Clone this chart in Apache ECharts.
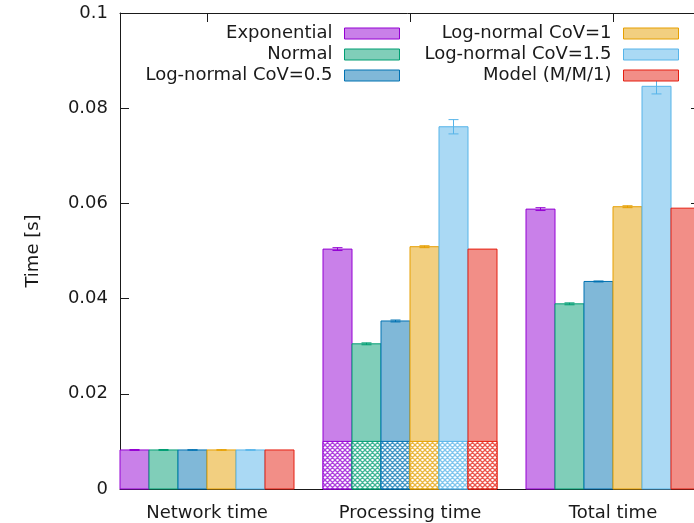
<!DOCTYPE html>
<html>
<head>
<meta charset="utf-8">
<script src="https://cdn.jsdelivr.net/npm/echarts@6/dist/echarts.min.js"></script>
<style>
html, body { margin: 0; padding: 0; background: #fff; }
#main { width: 694px; height: 523px; }
</style>
</head>
<body>
<div id="main"></div>
<script>
var categories = ['Network time', 'Processing time', 'Total time'];
var seriesNames = ['Exponential', 'Normal', 'Log-normal CoV=0.5',
                   'Log-normal CoV=1', 'Log-normal CoV=1.5', 'Model (M/M/1)'];
var lineColors = ['#9400d3', '#009e73', '#0072b2', '#e69f00', '#56b4e9', '#e51e10'];
var fillColors = ['#c980e9', '#80ceb9', '#80b8d8', '#f2cf80', '#aad9f4', '#f28e87'];

// mean times [network, processing, total]
var exponential = [0.0082, 0.0504, 0.0588];
var normal      = [0.0082, 0.0305, 0.0389];
var logn05      = [0.0082, 0.0353, 0.0436];
var logn1       = [0.0082, 0.0509, 0.0593];
var logn15      = [0.0082, 0.0761, 0.0846];
var model       = [0.0082, 0.0504, 0.0590];

// error bar half widths
var exponentialErr = [0.0001, 0.0003, 0.0003];
var normalErr      = [0.0001, 0.0002, 0.0002];
var logn05Err      = [0.00005, 0.0002, 0.0001];
var logn1Err       = [0.00005, 0.0002, 0.0002];
var logn15Err      = [0.00005, 0.0015, 0.0016];
var modelErr       = [0, 0, 0];

// hatched bottom part of the bars (processing only)
var hatched = [0, 0.01, 0];

var values = [exponential, normal, logn05, logn1, logn15, model];
var errors = [exponentialErr, normalErr, logn05Err, logn1Err, logn15Err, modelErr];

function makePattern(color) {
    var n = 5;
    var c = document.createElement('canvas');
    c.width = n; c.height = n;
    var ctx = c.getContext('2d');
    ctx.fillStyle = '#fff';
    ctx.fillRect(0, 0, n, n);
    ctx.strokeStyle = color;
    ctx.globalAlpha = 0.75;
    ctx.lineWidth = 1.3;
    ctx.beginPath();
    for (var o = -n; o <= n; o += n) {
        ctx.moveTo(o - 1, -1); ctx.lineTo(o + n + 1, n + 1);
        ctx.moveTo(o + n + 1, -1); ctx.lineTo(o - 1, n + 1);
    }
    ctx.stroke();
    return c;
}
var patterns = lineColors.map(makePattern);

function makeRender(k) {
    return function (params, api) {
        var c = api.value(0), v = api.value(1), e = api.value(2), h = api.value(3);
        var x0 = c - 3 / 7 + k / 7, x1 = x0 + 1 / 7;
        var p0 = api.coord([x0, 0]), p1 = api.coord([x1, v]);
        var w = p1[0] - p0[0];
        var children = [{
            type: 'rect',
            shape: { x: p0[0], y: p1[1], width: w, height: p0[1] - p1[1] },
            style: { fill: fillColors[k], stroke: lineColors[k], lineWidth: 1 }
        }];
        if (h > 0) {
            var ph = api.coord([x1, h]);
            children.push({
                type: 'rect',
                shape: { x: p0[0], y: ph[1], width: w, height: p0[1] - ph[1] },
                style: { fill: { image: patterns[k], repeat: 'repeat' }, stroke: lineColors[k], lineWidth: 1 }
            });
        }
        if (e > 0) {
            var xm = p0[0] + w / 2;
            var yt = api.coord([x0, v + e])[1], yb = api.coord([x0, v - e])[1];
            var st = { stroke: lineColors[k], lineWidth: 1 };
            children.push({ type: 'line', shape: { x1: xm, y1: yt, x2: xm, y2: yb }, style: st });
            children.push({ type: 'line', shape: { x1: xm - 5, y1: yt, x2: xm + 5, y2: yt }, style: st });
            children.push({ type: 'line', shape: { x1: xm - 5, y1: yb, x2: xm + 5, y2: yb }, style: st });
        }
        return { type: 'group', children: children };
    };
}

var series = seriesNames.map(function (name, k) {
    return {
        name: name,
        type: 'custom',
        renderItem: makeRender(k),
        itemStyle: { color: fillColors[k], borderColor: lineColors[k], borderWidth: 1 },
        data: categories.map(function (cat, i) {
            return [i, values[k][i], errors[k][i], hatched[i]];
        })
    };
});

function legendItems(from, to) {
    var out = [];
    for (var k = from; k < to; k++) {
        out.push({
            name: seriesNames[k],
            itemStyle: { color: fillColors[k], borderColor: lineColors[k], borderWidth: 1 }
        });
    }
    return out;
}

var legendBase = {
    orient: 'vertical',
    align: 'right',
    icon: 'rect',
    itemWidth: 55,
    itemHeight: 11,
    itemGap: 3,
    padding: 0,
    top: 24.5,
    textStyle: { fontSize: 18, color: '#1a1a1a', lineHeight: 18, padding: [0, 7, 0, 0] }
};

var frameLine = { show: true, onZero: false, lineStyle: { color: '#1a1a1a', width: 1 } };

var chart = echarts.init(document.getElementById('main'));
chart.setOption({
    animation: false,
    textStyle: { fontFamily: 'DejaVu Sans' },
    grid: { left: 120, width: 580, top: 13, bottom: 34, outerBoundsMode: 'none', containLabel: false },
    legend: [
        Object.assign({}, legendBase, { right: 294, data: legendItems(0, 3) }),
        Object.assign({}, legendBase, { right: 15, data: legendItems(3, 6) })
    ],
    xAxis: [{
        type: 'value',
        min: -3 / 7,
        max: 17 / 7,
        position: 'bottom',
        axisLine: frameLine,
        axisTick: { show: false },
        splitLine: { show: false },
        axisLabel: {
            customValues: [0, 1, 2],
            formatter: function (v) { return categories[Math.round(v)]; },
            fontSize: 18,
            color: '#1a1a1a',
            margin: 15
        }
    }, {
        type: 'value',
        min: -3 / 7,
        max: 17 / 7,
        position: 'top',
        axisLine: frameLine,
        axisTick: { inside: true, length: 9, customValues: [0, 1, 2], lineStyle: { color: '#1a1a1a' } },
        axisLabel: { show: false },
        splitLine: { show: false }
    }],
    yAxis: [{
        type: 'value',
        min: 0,
        max: 0.1,
        interval: 0.02,
        name: 'Time [s]',
        nameLocation: 'middle',
        nameGap: 78,
        nameTextStyle: { fontSize: 18, color: '#1a1a1a' },
        axisLine: frameLine,
        axisTick: { show: true, inside: true, length: 9, lineStyle: { color: '#1a1a1a' } },
        axisLabel: { fontSize: 18, color: '#1a1a1a', margin: 12 },
        splitLine: { show: false }
    }, {
        type: 'value',
        min: 0,
        max: 0.1,
        interval: 0.02,
        position: 'right',
        axisLine: frameLine,
        axisTick: { show: true, inside: true, length: 9, lineStyle: { color: '#1a1a1a' } },
        axisLabel: { show: false },
        splitLine: { show: false }
    }],
    series: series
});
</script>
</body>
</html>
